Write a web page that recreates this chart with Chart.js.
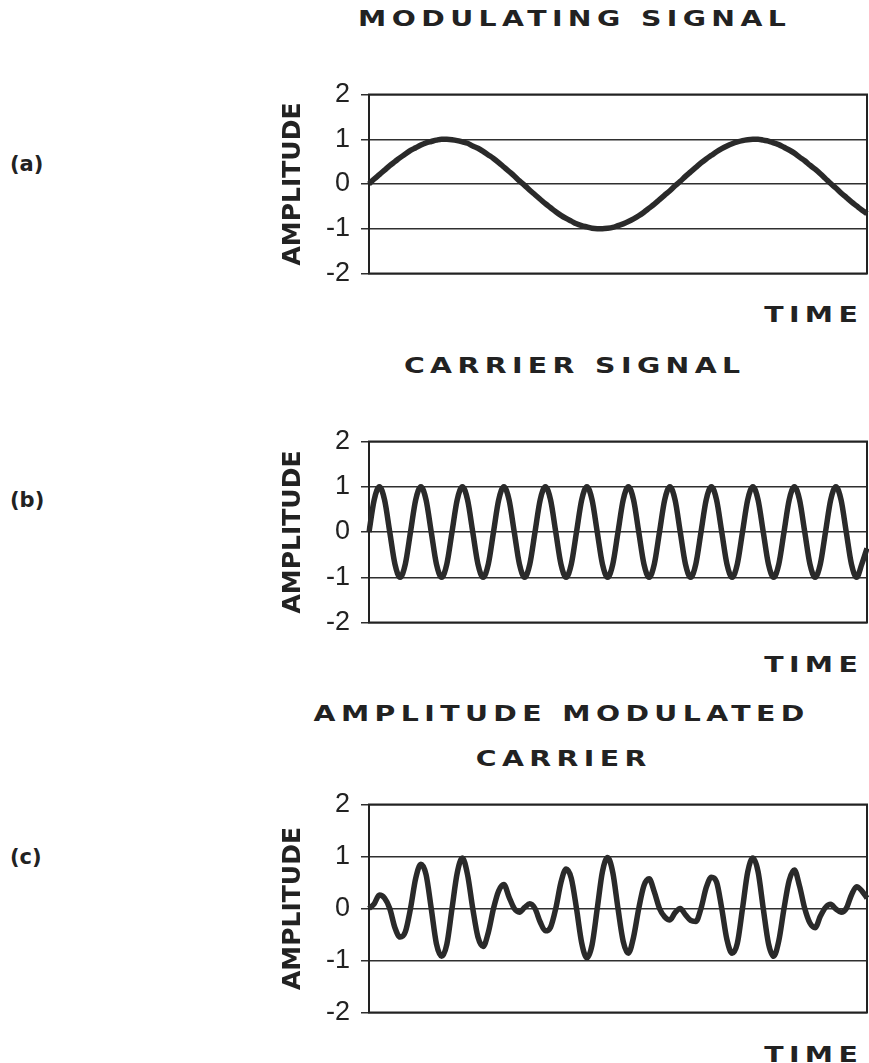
<!DOCTYPE html>
<html lang="en">

<head>
    <meta charset="UTF-8">
    <title>Amplitude Modulation</title>
    <script src="https://cdn.jsdelivr.net/npm/chart.js"></script>
    <style>
        body {
            margin: 0;
            background: #fff;
            width: 869px;
            height: 1063px;
            position: relative;
            overflow: hidden;
        }
        canvas {
            position: absolute;
            left: 270px;
        }
        .ttl, .time {
            position: absolute;
            text-align: center;
            font: bold 21px "DejaVu Sans", sans-serif;
            letter-spacing: 4px;
            padding-left: 4px;
            color: #222;
            line-height: 24px;
            transform: scaleX(1.35);
            white-space: nowrap;
        }
        .ttl { left: 270px; width: 600px; }
        .time { left: 709px; width: 200px; }
        .lbl {
            position: absolute;
            left: 10px;
            font: bold 21px "DejaVu Sans", sans-serif;
            color: #222;
            line-height: 24px;
        }
    </style>
</head>

<body>
    <div class="ttl" style="top:7px">MODULATING SIGNAL</div>
    <div class="lbl" style="top:152px">(a)</div>
    <canvas id="chartA" width="599" height="228" style="top:70px"></canvas>
    <div class="time" style="top:303px">TIME</div>

    <div class="ttl" style="top:354px">CARRIER SIGNAL</div>
    <div class="lbl" style="top:488px">(b)</div>
    <canvas id="chartB" width="599" height="230" style="top:417px"></canvas>
    <div class="time" style="top:653px">TIME</div>

    <div class="ttl" style="top:702px; left:257px">AMPLITUDE MODULATED</div>
    <div class="ttl" style="top:747px; left:259px">CARRIER</div>
    <div class="lbl" style="top:845px">(c)</div>
    <canvas id="chartC" width="599" height="257" style="top:780px"></canvas>
    <div class="time" style="top:1043px">TIME</div>

    <script>
        // time steps (hidden x axis)
        const time = Array.from({ length: 97 }, (_, i) => i);
        const yTicks = [-2, -1, 0, 1, 2];

        const modulating = [
            0.00, 0.11, 0.21, 0.31, 0.41, 0.50, 0.59, 0.67, 0.75, 0.81,
            0.87, 0.92, 0.95, 0.98, 1.00, 1.00, 0.99, 0.97, 0.94, 0.91,
            0.85, 0.80, 0.73, 0.65, 0.57, 0.48, 0.38, 0.28, 0.18, 0.07,
            -0.03, -0.14, -0.24, -0.34, -0.44, -0.53, -0.62, -0.70, -0.77, -0.83,
            -0.89, -0.93, -0.96, -0.99, -1.00, -1.00, -0.99, -0.97, -0.93, -0.89,
            -0.84, -0.78, -0.71, -0.63, -0.54, -0.45, -0.35, -0.25, -0.15, -0.04,
            0.06, 0.17, 0.27, 0.37, 0.47, 0.56, 0.64, 0.72, 0.79, 0.85,
            0.90, 0.94, 0.97, 0.99, 1.00, 1.00, 0.98, 0.96, 0.92, 0.88,
            0.82, 0.76, 0.69, 0.60, 0.52, 0.42, 0.33, 0.23, 0.12, 0.01,
            -0.09, -0.20, -0.30, -0.40, -0.49, -0.58, -0.66
        ];

        const carrier = [
            0, 0.71, 1, 0.71, 0, -0.71, -1, -0.71,
            0, 0.71, 1, 0.71, 0, -0.71, -1, -0.71,
            0, 0.71, 1, 0.71, 0, -0.71, -1, -0.71,
            0, 0.71, 1, 0.71, 0, -0.71, -1, -0.71,
            0, 0.71, 1, 0.71, 0, -0.71, -1, -0.71,
            0, 0.71, 1, 0.71, 0, -0.71, -1, -0.71,
            0, 0.71, 1, 0.71, 0, -0.71, -1, -0.71,
            0, 0.71, 1, 0.71, 0, -0.71, -1, -0.71,
            0, 0.71, 1, 0.71, 0, -0.71, -1, -0.71,
            0, 0.71, 1, 0.71, 0, -0.71, -1, -0.71,
            0, 0.71, 1, 0.71, 0, -0.71, -1, -0.71,
            0, 0.71, 1, 0.71, 0, -0.71, -1, -0.71,
            -0.36
        ];

        const amCarrier = [
            0, 0.09, 0.26, 0.20, 0, -0.37, -0.55, -0.45,
            0, 0.58, 0.85, 0.65, 0, -0.68, -0.92, -0.69,
            0, 0.68, 0.97, 0.65, 0, -0.55, -0.73, -0.46,
            0, 0.34, 0.46, 0.22, 0, -0.07, 0.02, 0.09,
            0, -0.26, -0.43, -0.36, 0, 0.50, 0.76, 0.58,
            0, -0.66, -0.95, -0.70, 0, 0.71, 0.98, 0.69,
            0, -0.63, -0.86, -0.55, 0, 0.44, 0.57, 0.32,
            0, -0.16, -0.22, -0.08, 0, -0.12, -0.23, -0.25,
            0, 0.40, 0.60, 0.51, 0, -0.60, -0.86, -0.67,
            0, 0.70, 0.97, 0.71, 0, -0.67, -0.92, -0.62,
            0, 0.54, 0.74, 0.43, 0, -0.28, -0.37, -0.15,
            0.02, 0.08, -0.01, -0.07, 0, 0.26, 0.42, 0.34,
            0.20
        ];

        // box around the plot area
        const frame = {
            id: 'frame',
            beforeDatasetsDraw(chart) {
                const { ctx, chartArea: a } = chart;
                ctx.save();
                ctx.strokeStyle = '#222';
                ctx.lineWidth = 2;
                ctx.strokeRect(a.left, a.top, a.right - a.left, a.bottom - a.top);
                ctx.restore();
            }
        };

        // plot area ends up 24.5px inside the canvas top and bottom (half tick label + tick padding)
        function makeChart(id, values) {
            return new Chart(document.getElementById(id), {
                type: 'line',
                data: {
                    labels: time,
                    datasets: [{
                        data: values,
                        borderColor: '#2a2a2a',
                        borderWidth: 5.5,
                        pointRadius: 0,
                        cubicInterpolationMode: 'monotone',
                        fill: false
                    }]
                },
                options: {
                    responsive: false,
                    animation: false,
                    events: [],
                    layout: { autoPadding: false, padding: { top: 0, bottom: 0, left: 0, right: 2 } },
                    plugins: {
                        legend: { display: false },
                        tooltip: { enabled: false }
                    },
                    scales: {
                        x: { display: false },
                        y: {
                            min: -2,
                            max: 2,
                            afterFit: s => { s.width = 99; },
                            afterBuildTicks: s => { s.ticks = yTicks.map(v => ({ value: v })); },
                            ticks: {
                                color: '#222',
                                padding: 11,
                                font: { family: 'Liberation Sans', size: 27, lineHeight: 1 }
                            },
                            grid: { color: '#2f2f2f', lineWidth: 1.5, tickLength: 8 },
                            border: { color: '#222', width: 2 },
                            title: {
                                display: true,
                                text: 'AMPLITUDE',
                                color: '#222',
                                padding: { top: 11, bottom: 0 },
                                font: { family: 'DejaVu Sans', size: 25, weight: 'bold', lineHeight: 1 }
                            }
                        }
                    }
                },
                plugins: [frame]
            });
        }

        makeChart('chartA', modulating);
        makeChart('chartB', carrier);
        makeChart('chartC', amCarrier);
    </script>
</body>

</html>
